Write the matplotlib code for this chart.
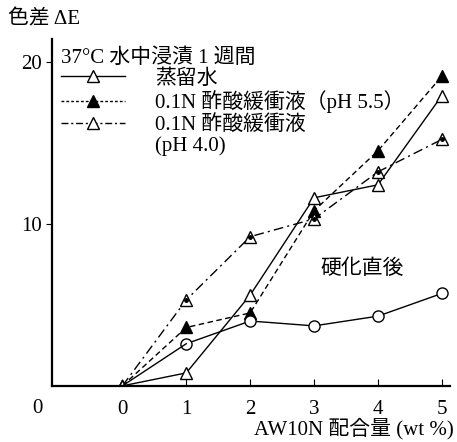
import numpy as np
import matplotlib
matplotlib.use("Agg")
import matplotlib.pyplot as plt
from matplotlib.lines import Line2D

plt.rcParams["font.family"] = ["Liberation Serif", "Noto Sans CJK JP"]

# AW10N 配合量 (wt%)
x = [0, 1, 2, 3, 4, 5]

# 色差 ΔE
distilled = [0, 0.8, 5.6, 11.6, 12.4, 17.9]      # 蒸留水
ph55 = [0, 3.6, 4.5, 10.8, 14.5, 19.1]           # 0.1N 酢酸緩衝液 (pH 5.5)
ph40 = [0, 5.3, 9.2, 10.3, 13.2, 15.2]           # 0.1N 酢酸緩衝液 (pH 4.0)
cured = [0, 2.6, 4.0, 3.7, 4.3, 5.7]             # 硬化直後

fig = plt.figure(figsize=(4.57, 4.42), dpi=100)
ax = fig.add_axes([0.114, 0.127, 0.871, 0.785])

ms = 8.5
fs = 15
ax.plot(x, distilled, "-", color="black", lw=1.0, marker="^", ms=ms,
        mfc="white", mec="black", mew=1.0)
ax.plot(x, ph55, color="black", lw=1.0, ls=(0, (4, 2.5)), marker="^", ms=ms,
        mfc="black", mec="black")
ax.plot(x, ph40, color="black", lw=1.0, ls=(0, (7, 3, 1.5, 3)), marker="^",
        ms=ms, mfc="white", mec="black", mew=1.0)
ax.plot(x[1:], ph40[1:], ls="none", marker="o", ms=2.5, color="black")
ax.plot(x[1:], cured[1:], "-", color="black", lw=1.0, marker="o", ms=8,
        mfc="white", mec="black", mew=1.0)
ax.plot(x[:2], cured[:2], "-", color="black", lw=1.0)

ax.set_xlim(-1.1, 5.13)
ax.set_ylim(0, 21.4)
ax.set_xticks([0, 1, 2, 3, 4, 5])
ax.set_yticks([10, 20])
ax.tick_params(axis="x", direction="in", length=5, labelsize=fs, pad=10)
ax.tick_params(axis="y", direction="out", length=4, labelsize=fs)
for s in ["top", "right"]:
    ax.spines[s].set_visible(False)
ax.spines["left"].set_linewidth(1.6)
ax.spines["bottom"].set_linewidth(1.6)

fig.text(0.081, 0.076, "0", fontsize=fs, ha="center", va="center")
fig.text(0.018, 0.955, "色差 ΔE", fontsize=fs, ha="left", va="center")
fig.text(0.993, 0.030, "AW10N 配合量 (wt %)", fontsize=fs, ha="right",
         va="center")
ax.text(3.75, 7.2, "硬化直後", fontsize=fs, ha="center", va="center")

handles = [
    Line2D([], [], color="black", lw=1.0, marker="^", ms=ms, mfc="white"),
    Line2D([], [], color="black", lw=1.0, ls=(0, (2, 1.5)), marker="^",
           ms=ms, mfc="black"),
    Line2D([], [], color="black", lw=1.0, ls=(0, (5, 2, 1.5, 2)), marker="^",
           ms=ms, mfc="white"),
    Line2D([], [], ls="none"),
]
labels = ["蒸留水", "0.1N 酢酸緩衝液（pH 5.5）", "0.1N 酢酸緩衝液", "(pH 4.0)"]
leg = ax.legend(handles, labels, title="37°C 水中浸漬 1 週間",
                loc="upper left", bbox_to_anchor=(-0.01, 1.01),
                frameon=False, fontsize=fs, title_fontsize=fs,
                handlelength=3.1, handletextpad=1.45, labelspacing=0.08,
                borderpad=0.1, markerscale=1.0)
leg._legend_box.align = "left"

fig.savefig("out.png", dpi=100)
